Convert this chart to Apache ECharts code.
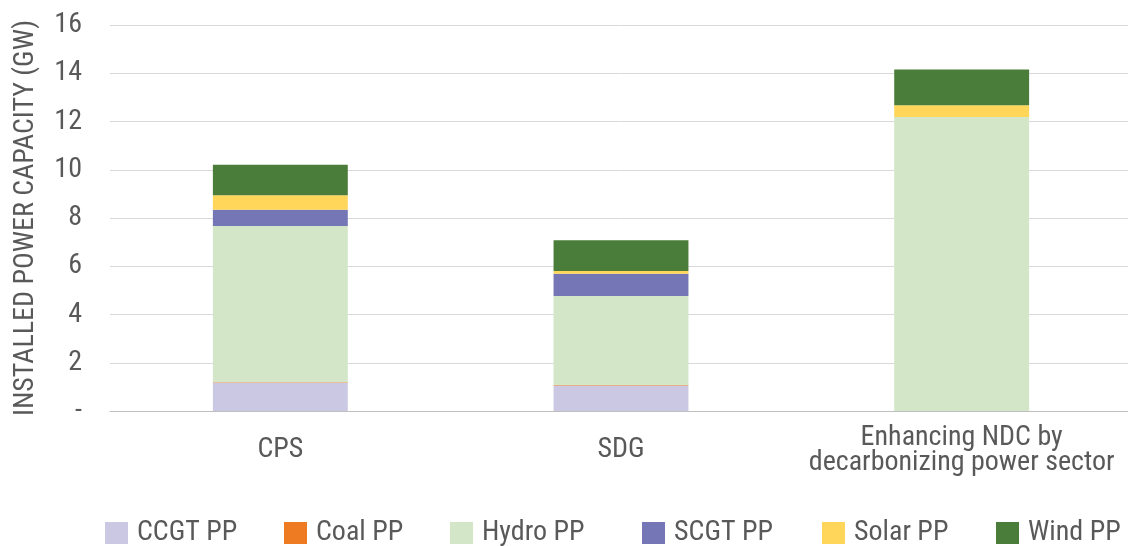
<!DOCTYPE html>
<html>
<head>
<meta charset="utf-8">
<script src="https://cdn.jsdelivr.net/npm/echarts@6/dist/echarts.min.js"></script>
<style>
  html, body { margin: 0; padding: 0; background: #fff; }
  #chart { width: 1128px; height: 546px; }
</style>
</head>
<body>
<div id="chart"></div>
<script>
// Installed power capacity by scenario (GW)
const categories = ['CPS', 'SDG', 'Enhancing NDC by\ndecarbonizing power sector'];
const seriesNames = ['CCGT PP', 'Coal PP', 'Hydro PP', 'SCGT PP', 'Solar PP', 'Wind PP'];
const ccgt  = [1.17, 1.06, 0];
const coal  = [0.02, 0.02, 0];
const hydro = [6.48, 3.69, 12.19];
const scgt  = [0.67, 0.92, 0];
const solar = [0.60, 0.11, 0.48];
const wind  = [1.27, 1.28, 1.49];
const yTicks = [0, 2, 4, 6, 8, 10, 12, 14, 16];
const yTickLabels = ['-', '2', '4', '6', '8', '10', '12', '14', '16'];

const values = [ccgt, coal, hydro, scgt, solar, wind];
const colors = ['#CBC8E3', '#EE7B22', '#D3E6C7', '#7476B6', '#FFD65A', '#4A7D39'];
const legendLeft = [105, 284, 450, 642, 822, 996];

const font = "'Roboto Condensed', 'Liberation Sans Narrow', Roboto, sans-serif";
const textColor = '#595959';

const chart = echarts.init(document.getElementById('chart'), null, { renderer: 'canvas' });

chart.setOption({
  animation: false,
  textStyle: { fontFamily: font, color: textColor },
  grid: { left: 110, right: -4, top: 25, bottom: 135, containLabel: false, outerBoundsMode: 'none' },
  legend: seriesNames.map((name, i) => ({
    data: [name],
    left: legendLeft[i],
    top: 519,
    padding: 0,
    itemWidth: 23,
    itemHeight: 22,
    icon: 'rect',
    selectedMode: false,
    textStyle: { fontFamily: font, fontSize: 28, color: textColor, padding: [0, 0, 0, 4] }
  })),
  xAxis: {
    type: 'category',
    data: categories,
    axisLine: { show: true, lineStyle: { color: '#BFBFBF', width: 1 } },
    axisTick: { show: false },
    axisLabel: {
      fontFamily: font, fontSize: 28, color: textColor,
      margin: 39, lineHeight: 25, interval: 0, verticalAlign: 'middle'
    }
  },
  yAxis: {
    type: 'value',
    min: 0, max: 16, interval: 2,
    name: 'INSTALLED POWER CAPACITY (GW)',
    nameLocation: 'middle',
    nameGap: 70,
    nameRotate: 90,
    nameTextStyle: { fontFamily: font, fontSize: 28, color: textColor },
    axisLine: { show: false },
    axisTick: { show: false },
    splitLine: { show: true, lineStyle: { color: '#D9D9D9', width: 1 } },
    axisLabel: {
      fontFamily: font, fontSize: 28, color: textColor, margin: 28,
      formatter: v => yTickLabels[yTicks.indexOf(v)] ?? String(v)
    }
  },
  series: seriesNames.map((name, i) => ({
    name,
    type: 'bar',
    stack: 'total',
    barWidth: '39.6%',
    data: values[i],
    itemStyle: { color: colors[i] },
    emphasis: { disabled: true }
  }))
});
</script>
</body>
</html>
